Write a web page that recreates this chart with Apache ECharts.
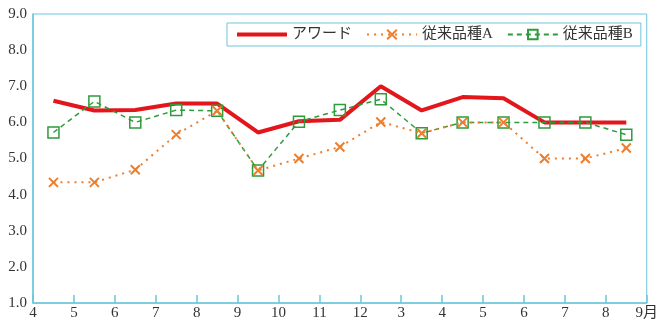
<!DOCTYPE html>
<html>
<head>
<meta charset="utf-8">
<script src="https://cdn.jsdelivr.net/npm/echarts@6/dist/echarts.min.js"></script>
<style>
  html, body { margin: 0; padding: 0; background: #fff; }
  #main { width: 661px; height: 323px; }
</style>
</head>
<body>
<div id="main"></div>
<script>
// month boundaries on the x axis (16 ticks, 15 periods)
var xLabels = ['4', '5', '6', '7', '8', '9', '10', '11', '12', '3', '4', '5', '6', '7', '8', '9月'];

// one value per period
var award   = [6.6, 6.33, 6.34, 6.52, 6.52, 5.72, 6.03, 6.07, 7.0, 6.33, 6.7, 6.67, 6.0, 6.0, 6.0];
var varietyA = [4.34, 4.34, 4.69, 5.66, 6.32, 4.67, 5.0, 5.32, 6.01, 5.7, 6.0, 6.0, 5.0, 5.0, 5.29];
var varietyB = [5.72, 6.58, 6.0, 6.34, 6.32, 4.67, 6.02, 6.34, 6.64, 5.7, 6.0, 6.0, 6.0, 6.0, 5.66];

var seriesNames = ['アワード', '従来品種A', '従来品種B'];

var axisCol = '#6cc6dc';
var font = "'Liberation Serif', 'Noto Sans CJK JP', serif";

// points sit in the middle of each month period
function toPoints(arr) {
    return arr.map(function (v, i) { return [i + 0.5, v]; });
}

var crossPath = 'path://M0,0L10,10M10,0L0,10';

var myChart = echarts.init(document.getElementById('main'));
myChart.setOption({
    animation: false,
    textStyle: { fontFamily: font },
    grid: {
        left: 33,
        right: 10,
        top: 14,
        bottom: 20,
        show: true,
        borderColor: axisCol,
        borderWidth: 1
    },
    legend: {
        // red line has no marker, hide the default legend dot
        data: [
            { name: seriesNames[0], itemStyle: { opacity: 0 }, lineStyle: { width: 4 } },
            seriesNames[1],
            seriesNames[2]
        ],
        left: 227,
        top: 23,
        padding: [4, 8, 4, 8],
        itemWidth: 50,
        itemHeight: 12,
        itemGap: 14,
        borderColor: axisCol,
        borderWidth: 1,
        textStyle: { fontFamily: font, fontSize: 15, color: '#333' }
    },
    xAxis: {
        type: 'value',
        min: 0,
        max: 15,
        interval: 1,
        axisLine: { lineStyle: { color: axisCol, width: 1.5 } },
        axisTick: { inside: true, length: 8, lineStyle: { color: axisCol, width: 1.5 } },
        splitLine: { show: false },
        axisLabel: {
            color: '#333',
            fontSize: 15,
            fontFamily: font,
            margin: 3,
            formatter: function (v) { return xLabels[v]; }
        }
    },
    yAxis: {
        type: 'value',
        min: 1,
        max: 9,
        interval: 1,
        axisLine: { show: true, lineStyle: { color: axisCol, width: 1.5 } },
        axisTick: { show: false },
        splitLine: { show: false },
        axisLabel: {
            color: '#333',
            fontSize: 15,
            fontFamily: font,
            margin: 6,
            formatter: function (v) { return v.toFixed(1); }
        }
    },
    series: [{
        name: seriesNames[0],
        type: 'line',
        z: 2,
        data: toPoints(award),
        symbol: 'none',
        lineStyle: { color: '#e3161b', width: 4 },
        itemStyle: { color: '#e3161b' }
    }, {
        name: seriesNames[1],
        type: 'line',
        z: 4,
        data: toPoints(varietyA),
        symbol: crossPath,
        symbolSize: 9,
        lineStyle: { color: '#ee7d2c', width: 2, type: [2, 5] },
        itemStyle: { color: 'rgba(0,0,0,0)', borderColor: '#ee7d2c', borderWidth: 2 }
    }, {
        name: seriesNames[2],
        type: 'line',
        z: 3,
        data: toPoints(varietyB),
        symbol: 'rect',
        symbolSize: 11,
        lineStyle: { color: '#2e9b3c', width: 1.5, type: [5, 4] },
        itemStyle: { color: 'rgba(255,255,255,0)', borderColor: '#2e9b3c', borderWidth: 1.5 }
    }]
});
</script>
</body>
</html>
